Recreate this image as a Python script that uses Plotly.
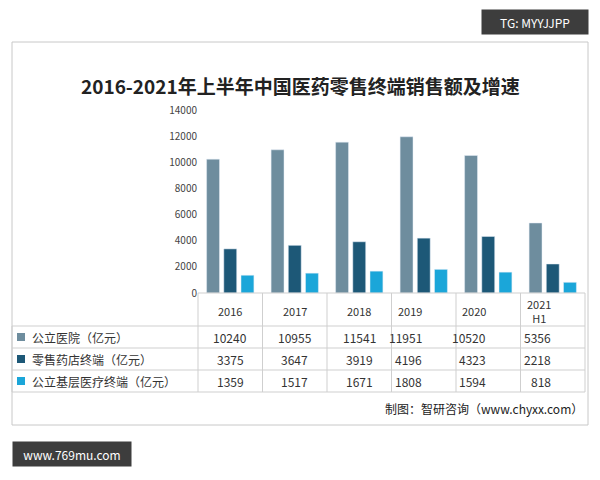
import plotly.graph_objects as go

years = ["2016", "2017", "2018", "2019", "2020", "2021<br>H1"]
series_names = ["公立医院（亿元）", "零售药店终端（亿元）", "公立基层医疗终端（亿元）"]
hospital = [10240, 10955, 11541, 11951, 10520, 5356]
pharmacy = [3375, 3647, 3919, 4196, 4323, 2218]
primary = [1359, 1517, 1671, 1808, 1594, 818]
colors = ["#6e8d9e", "#1d5877", "#1ba6d9"]
values = [hospital, pharmacy, primary]

W, H = 600, 480
x0, x1 = 198, 585
ytop, ybot = 110, 293
def px(x): return x / W
def py(y): return 1 - y / H

fig = go.Figure()
for name, vals, c in zip(series_names, values, colors):
    fig.add_bar(x=years, y=vals, name=name, marker_color=c, width=0.2)

shapes = []
ann = []
shapes.append(dict(type="rect", xref="paper", yref="paper", x0=px(12), x1=px(588), y0=py(425), y1=py(42),
                   line=dict(color="#c8c8c8", width=1), layer="below"))
rows_y = [293, 326, 348, 370, 392]
line_c = "#cfcfcf"
for y in rows_y[1:]:
    shapes.append(dict(type="line", xref="paper", yref="paper", x0=px(12), x1=px(x1), y0=py(y), y1=py(y), line=dict(color=line_c, width=1)))
shapes.append(dict(type="line", xref="paper", yref="paper", x0=px(x0), x1=px(x1), y0=py(293), y1=py(293), line=dict(color=line_c, width=1)))
shapes.append(dict(type="line", xref="paper", yref="paper", x0=px(12), x1=px(12), y0=py(326), y1=py(392), line=dict(color=line_c, width=1)))
cw = (x1 - x0) / len(years)
for j in range(len(years) + 1):
    xx = x0 + j * cw
    shapes.append(dict(type="line", xref="paper", yref="paper", x0=px(xx), x1=px(xx), y0=py(293), y1=py(392), line=dict(color=line_c, width=1)))
for j, yl in enumerate(years):
    ann.append(dict(x=px(x0 + (j + .5) * cw), y=py(311), xref="paper", yref="paper", text=yl, showarrow=False,
                    font=dict(size=11, color="#333"), yanchor="middle"))
for r, (name, vals, c) in enumerate(zip(series_names, values, colors)):
    yc = (rows_y[r + 1] + rows_y[r + 2]) / 2
    shapes.append(dict(type="rect", xref="paper", yref="paper", x0=px(17), x1=px(25), y0=py(yc + 4), y1=py(yc - 4),
                       fillcolor=c, line=dict(width=0)))
    ann.append(dict(x=px(30), y=py(yc), xref="paper", yref="paper", text=name, showarrow=False, xanchor="left",
                    yanchor="middle", font=dict(size=12, color="#333")))
    for j, v in enumerate(vals):
        ann.append(dict(x=px(x0 + (j + .5) * cw), y=py(yc), xref="paper", yref="paper", text=str(v), showarrow=False,
                        yanchor="middle", font=dict(size=12, color="#333")))
ann.append(dict(x=px(300), y=py(85), xref="paper", yref="paper", showarrow=False, yanchor="middle",
                text="<b>2016-2021年上半年中国医药零售终端销售额及增速</b>", font=dict(size=19, color="#222")))
ann.append(dict(x=px(585), y=py(408), xref="paper", yref="paper", xanchor="right", yanchor="middle", showarrow=False,
                text="制图：智研咨询（www.chyxx.com）", font=dict(size=12, color="#222")))
ann.append(dict(x=px(535), y=py(22), xref="paper", yref="paper", showarrow=False, xanchor="center", yanchor="middle",
                text="TG: MYYJJPP", font=dict(size=12, color="white"), bgcolor="#3d3d3d", width=104, height=22))
ann.append(dict(x=px(72), y=py(454), xref="paper", yref="paper", showarrow=False, xanchor="center", yanchor="middle",
                text="www.769mu.com", font=dict(size=12, color="white"), bgcolor="#3d3d3d", width=116, height=22))

fig.update_layout(
    width=W, height=H, margin=dict(l=0, r=0, t=0, b=0, autoexpand=False), paper_bgcolor="white", plot_bgcolor="white",
    showlegend=False, barmode="group",
    font=dict(family="Noto Sans CJK SC"),
    shapes=shapes, annotations=ann,
    xaxis=dict(domain=[px(x0), px(x1)], showticklabels=False, showline=False, showgrid=False),
    yaxis=dict(domain=[py(ybot), py(ytop)], range=[0, 14000], dtick=2000, showgrid=False, tickformat="d",
               tickfont=dict(size=10, color="#444"), ticks="", zeroline=False),
)
fig.write_html("out.html", config={"displayModeBar": False},
               post_script="document.body.style.margin='0';document.body.style.overflow='hidden';")
